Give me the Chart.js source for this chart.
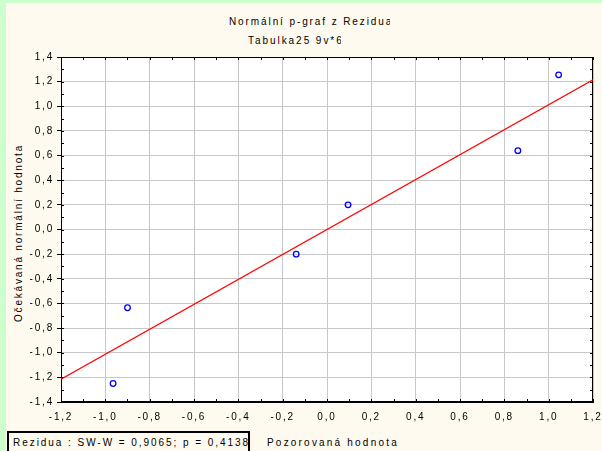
<!DOCTYPE html>
<html>
<head>
<meta charset="utf-8">
<script src="https://cdn.jsdelivr.net/npm/chart.js@4/dist/chart.umd.min.js"></script>
<style>
body { margin: 0; background: #ccffcc; }
#wrap { position: relative; width: 602px; height: 451px; overflow: hidden; }
#paper { position: absolute; left: 6px; top: 3px; right: 0; bottom: 0; background: #fffaef; }
canvas { position: absolute; left: 0; top: 0; }
.t { position: absolute; font: 10px "Liberation Sans", Arial, sans-serif; letter-spacing: 2px; color: #000; white-space: nowrap; line-height: 12px; }
.clip { overflow: hidden; }
#ytitle { left: 19px; top: 233px; letter-spacing: 1.8px; transform: translate(-50%, -50%) rotate(-90deg); }
#box { position: absolute; left: 7px; top: 431px; width: 239px; height: 30px; border: 2px solid #000; background: #fffaef; }
</style>
</head>
<body>
<div id="wrap">
  <div id="paper"></div>
  <div class="t clip" style="left:229px; top:16px; width:161px; letter-spacing:1.9px;">Normální p-graf z Rezidua</div>
  <div class="t clip" style="left:248px; top:35px; width:93px; letter-spacing:1.95px;">Tabulka25 9v*6</div>
  <div class="t" id="ytitle">Očekávaná normální hodnota</div>
  <div id="box"></div>
  <div class="t" style="left:13px; top:437px; letter-spacing:1.95px;">Rezidua : SW-W = 0,9065; p = 0,4138</div>
  <div class="t" style="left:267px; top:437px; letter-spacing:2.2px;">Pozorovaná hodnota</div>
  <canvas id="chart" width="602" height="451"></canvas>
</div>
<script>
// residuals (observed) vs expected normal values
const residX = [-0.965, -0.900, -0.139, 0.095, 0.861, 1.045];
const residY = [-1.250, -0.635, -0.200, 0.200, 0.640, 1.255];
// fitted reference line
const fitX = [-1.2, 1.2];
const fitY = [-1.215, 1.215];
// axis ticks
const xTicks = [-1.2, -1.0, -0.8, -0.6, -0.4, -0.2, 0.0, 0.2, 0.4, 0.6, 0.8, 1.0, 1.2];
const yTicks = [-1.4, -1.2, -1.0, -0.8, -0.6, -0.4, -0.2, 0.0, 0.2, 0.4, 0.6, 0.8, 1.0, 1.2, 1.4];

Chart.defaults.font.family = '"Liberation Sans", Arial, sans-serif';
Chart.defaults.font.size = 10;
Chart.defaults.color = '#000';

function fmt(v) {
    return v.toFixed(1).replace('.', ',');
}

const spacing = {
    id: 'spacing',
    beforeLayout(chart) { chart.ctx.letterSpacing = '1.8px'; },
    beforeDraw(chart) {
        const a = chart.chartArea, ctx = chart.ctx;
        ctx.letterSpacing = '1.8px';
        ctx.save();
        ctx.fillStyle = '#fff';
        ctx.fillRect(a.left, a.top, a.right - a.left, a.bottom - a.top);
        ctx.restore();
    }
};

// frame round the plot and the small inward ticks every 0.1
const frame = {
    id: 'frame',
    beforeDatasetsDraw(chart) {
        const a = chart.chartArea, ctx = chart.ctx;
        const xs = chart.scales.x, ys = chart.scales.y;
        ctx.save();
        ctx.strokeStyle = '#000';
        ctx.lineWidth = 1;
        ctx.strokeRect(a.left + 0.5, a.top + 0.5, a.right - a.left - 1, a.bottom - a.top - 1);
        ctx.beginPath();
        for (let i = -12; i <= 12; i++) {
            const px = Math.round(xs.getPixelForValue(i / 10)) + 0.5;
            ctx.moveTo(px, a.top); ctx.lineTo(px, a.top + 3);
            ctx.moveTo(px, a.bottom); ctx.lineTo(px, a.bottom - 3);
        }
        for (let i = -14; i <= 14; i++) {
            const py = Math.round(ys.getPixelForValue(i / 10)) + 0.5;
            ctx.moveTo(a.left, py); ctx.lineTo(a.left + 3, py);
            ctx.moveTo(a.right, py); ctx.lineTo(a.right - 3, py);
        }
        ctx.stroke();
        ctx.restore();
    }
};

new Chart(document.getElementById('chart'), {
    type: 'scatter',
    data: {
        datasets: [{
            type: 'line',
            data: fitX.map((x, i) => ({ x: x, y: fitY[i] })),
            borderColor: '#ff0000',
            borderWidth: 1.2,
            pointRadius: 0,
            fill: false
        }, {
            data: residX.map((x, i) => ({ x: x, y: residY[i] })),
            borderColor: '#0000ff',
            backgroundColor: 'rgba(0,0,0,0)',
            borderWidth: 1.3,
            pointRadius: 2.8
        }]
    },
    options: {
        responsive: false,
        animation: false,
        layout: { padding: { left: 0, top: 57, right: 9, bottom: 0 } },
        plugins: { legend: { display: false }, tooltip: { enabled: false } },
        scales: {
            x: {
                type: 'linear',
                min: -1.2, max: 1.2,
                afterBuildTicks: s => { s.ticks = xTicks.map(v => ({ value: v })); },
                afterFit: s => { s.height = 49; s.paddingLeft = 0; s.paddingRight = 0; },
                ticks: { padding: 9, callback: v => fmt(v), maxRotation: 0, autoSkip: false },
                grid: { color: '#c8c8c8', drawTicks: false },
                border: { color: '#000' }
            },
            y: {
                type: 'linear',
                min: -1.4, max: 1.4,
                afterBuildTicks: s => { s.ticks = yTicks.map(v => ({ value: v })); },
                afterFit: s => { s.width = 61; },
                ticks: { padding: 3, callback: v => fmt(v), autoSkip: false },
                grid: { color: '#c8c8c8', tickLength: 4, tickColor: '#000' },
                border: { color: '#000' }
            }
        }
    },
    plugins: [spacing, frame]
});
</script>
</body>
</html>
